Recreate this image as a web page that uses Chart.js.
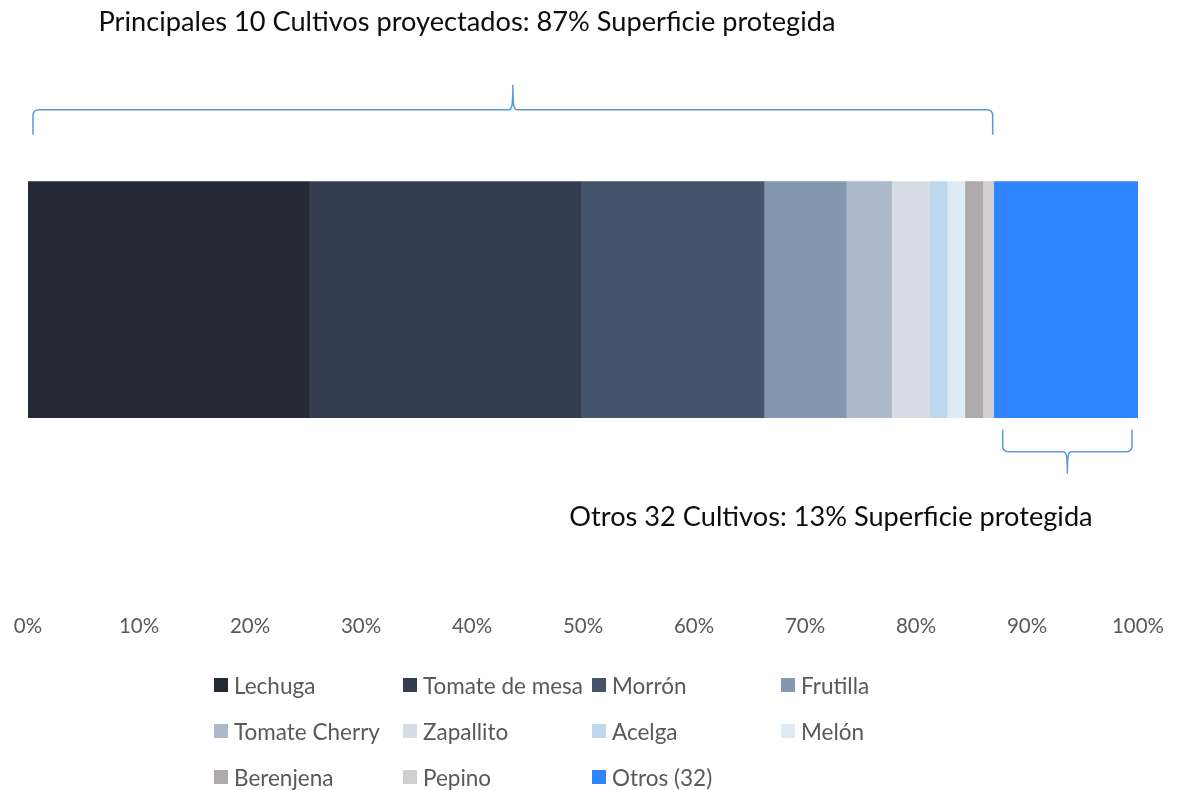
<!DOCTYPE html>
<html>
<head>
<meta charset="utf-8">
<script src="https://cdn.jsdelivr.net/npm/chart.js@4.4.1/dist/chart.umd.min.js"></script>
<style>
  html, body { margin: 0; padding: 0; background: #ffffff; }
  #wrap { position: relative; width: 1187px; height: 790px; overflow: hidden; }
  #c { position: absolute; left: 0; top: 0; }
  #legend {
    position: absolute; left: 214px; top: 662px;
    display: grid; grid-template-columns: 189px 189px 189px 189px; grid-auto-rows: 46px;
    font-family: Lato, "Open Sans", sans-serif; font-size: 22.5px; color: #595959;
  }
  #legend .item { display: flex; align-items: center; white-space: nowrap; }
  #legend .sw { width: 14px; height: 14px; margin-right: 6px; flex: none; }
</style>
</head>
<body>
<div id="wrap">
  <canvas id="c" width="1187" height="790"></canvas>
  <div id="legend"></div>
</div>
<script>
// ---- data ----
const categories = ['Superficie protegida'];
const crops = ['Lechuga', 'Tomate de mesa', 'Morrón', 'Frutilla', 'Tomate Cherry', 'Zapallito', 'Acelga', 'Melón', 'Berenjena', 'Pepino', 'Otros (32)'];
const shares = [25.3, 24.5, 16.5, 7.4, 4.1, 3.4, 1.6, 1.6, 1.6, 1.0, 13.0];
const colors = ['#232a35', '#343e50', '#44546a', '#8497b0', '#adb9ca', '#d6dce5', '#bdd7ee', '#deebf7', '#aeaaaa', '#d0cece', '#2f84ff'];
const tickValues = [0, 10, 20, 30, 40, 50, 60, 70, 80, 90, 100];
const tickLabels = ['0%', '10%', '20%', '30%', '40%', '50%', '60%', '70%', '80%', '90%', '100%'];
const groupTitles = ['Principales 10 Cultivos proyectados: 87% Superficie protegida', 'Otros 32 Cultivos: 13% Superficie protegida'];
const mainCount = 10;

const FONT = 'Lato, "Open Sans", sans-serif';

function drawBrace(ctx, x1, x2, yEnd, yMid, yTip) {
  const d = Math.sign(yTip - yEnd);
  const r = 6;
  const xc = (x1 + x2) / 2;
  ctx.beginPath();
  ctx.moveTo(x1, yEnd);
  ctx.lineTo(x1, yMid - d * r);
  ctx.quadraticCurveTo(x1, yMid, x1 + r, yMid);
  ctx.lineTo(xc - 4, yMid);
  ctx.bezierCurveTo(xc - 1, yMid, xc, yMid + d * 4, xc, yTip);
  ctx.bezierCurveTo(xc, yMid + d * 4, xc + 1, yMid, xc + 4, yMid);
  ctx.lineTo(x2 - r, yMid);
  ctx.quadraticCurveTo(x2, yMid, x2, yMid - d * r);
  ctx.lineTo(x2, yEnd);
  ctx.stroke();
}

const bracePlugin = {
  id: 'braces',
  afterDatasetsDraw(chart) {
    const ctx = chart.ctx;
    const xs = chart.scales.x;
    const meta = chart.getDatasetMeta(0);
    const bar = meta.data[0];
    const half = bar.height / 2;
    const barTop = bar.y - half;
    const barBottom = bar.y + half;
    const mainSum = shares.slice(0, mainCount).reduce((a, b) => a + b, 0);
    const total = shares.reduce((a, b) => a + b, 0);
    ctx.save();
    ctx.strokeStyle = '#5b9bd5';
    ctx.lineWidth = 1.5;
    // top brace over main crops
    drawBrace(ctx, xs.getPixelForValue(0) + 5, xs.getPixelForValue(mainSum) - 1, barTop - 47, barTop - 72, barTop - 97);
    // bottom brace under others
    drawBrace(ctx, xs.getPixelForValue(mainSum) + 9, xs.getPixelForValue(total) - 6, barBottom + 12, barBottom + 34, barBottom + 56);
    // titles
    ctx.fillStyle = '#0d0d0d';
    ctx.font = '27.2px ' + FONT;
    ctx.textAlign = 'center';
    ctx.textBaseline = 'middle';
    ctx.fillText(groupTitles[0], 467, 22);
    ctx.fillText(groupTitles[1], 831, 517);
    ctx.restore();
  }
};

const datasets = crops.map((name, i) => ({
  label: name,
  data: [shares[i]],
  backgroundColor: colors[i],
  borderWidth: 0,
  barThickness: 236,
  categoryPercentage: 1,
  barPercentage: 1
}));

const chart = new Chart(document.getElementById('c'), {
  type: 'bar',
  data: { labels: categories, datasets },
  options: {
    indexAxis: 'y',
    responsive: false,
    animation: false,
    layout: { padding: { top: 10, left: 28, right: 49, bottom: 134 } },
    plugins: { legend: { display: false }, tooltip: { enabled: false } },
    scales: {
      x: {
        stacked: true, min: 0, max: 100,
        afterBuildTicks(scale) { scale.ticks = tickValues.map(v => ({ value: v })); },
        afterFit(scale) { scale.paddingLeft = 0; scale.paddingRight = 0; },
        ticks: {
          padding: 17,
          color: '#595959',
          font: { family: FONT, size: 20.5 },
          callback(value) { return tickLabels[tickValues.indexOf(value)]; },
          maxRotation: 0
        },
        grid: { display: false },
        border: { display: false }
      },
      y: { stacked: true, display: false }
    }
  },
  plugins: [bracePlugin]
});

// HTML legend built from chart datasets
const legendEl = document.getElementById('legend');
chart.data.datasets.forEach(ds => {
  const item = document.createElement('div');
  item.className = 'item';
  const sw = document.createElement('span');
  sw.className = 'sw';
  sw.style.background = ds.backgroundColor;
  const tx = document.createElement('span');
  tx.textContent = ds.label;
  item.appendChild(sw);
  item.appendChild(tx);
  legendEl.appendChild(item);
});
</script>
</body>
</html>
